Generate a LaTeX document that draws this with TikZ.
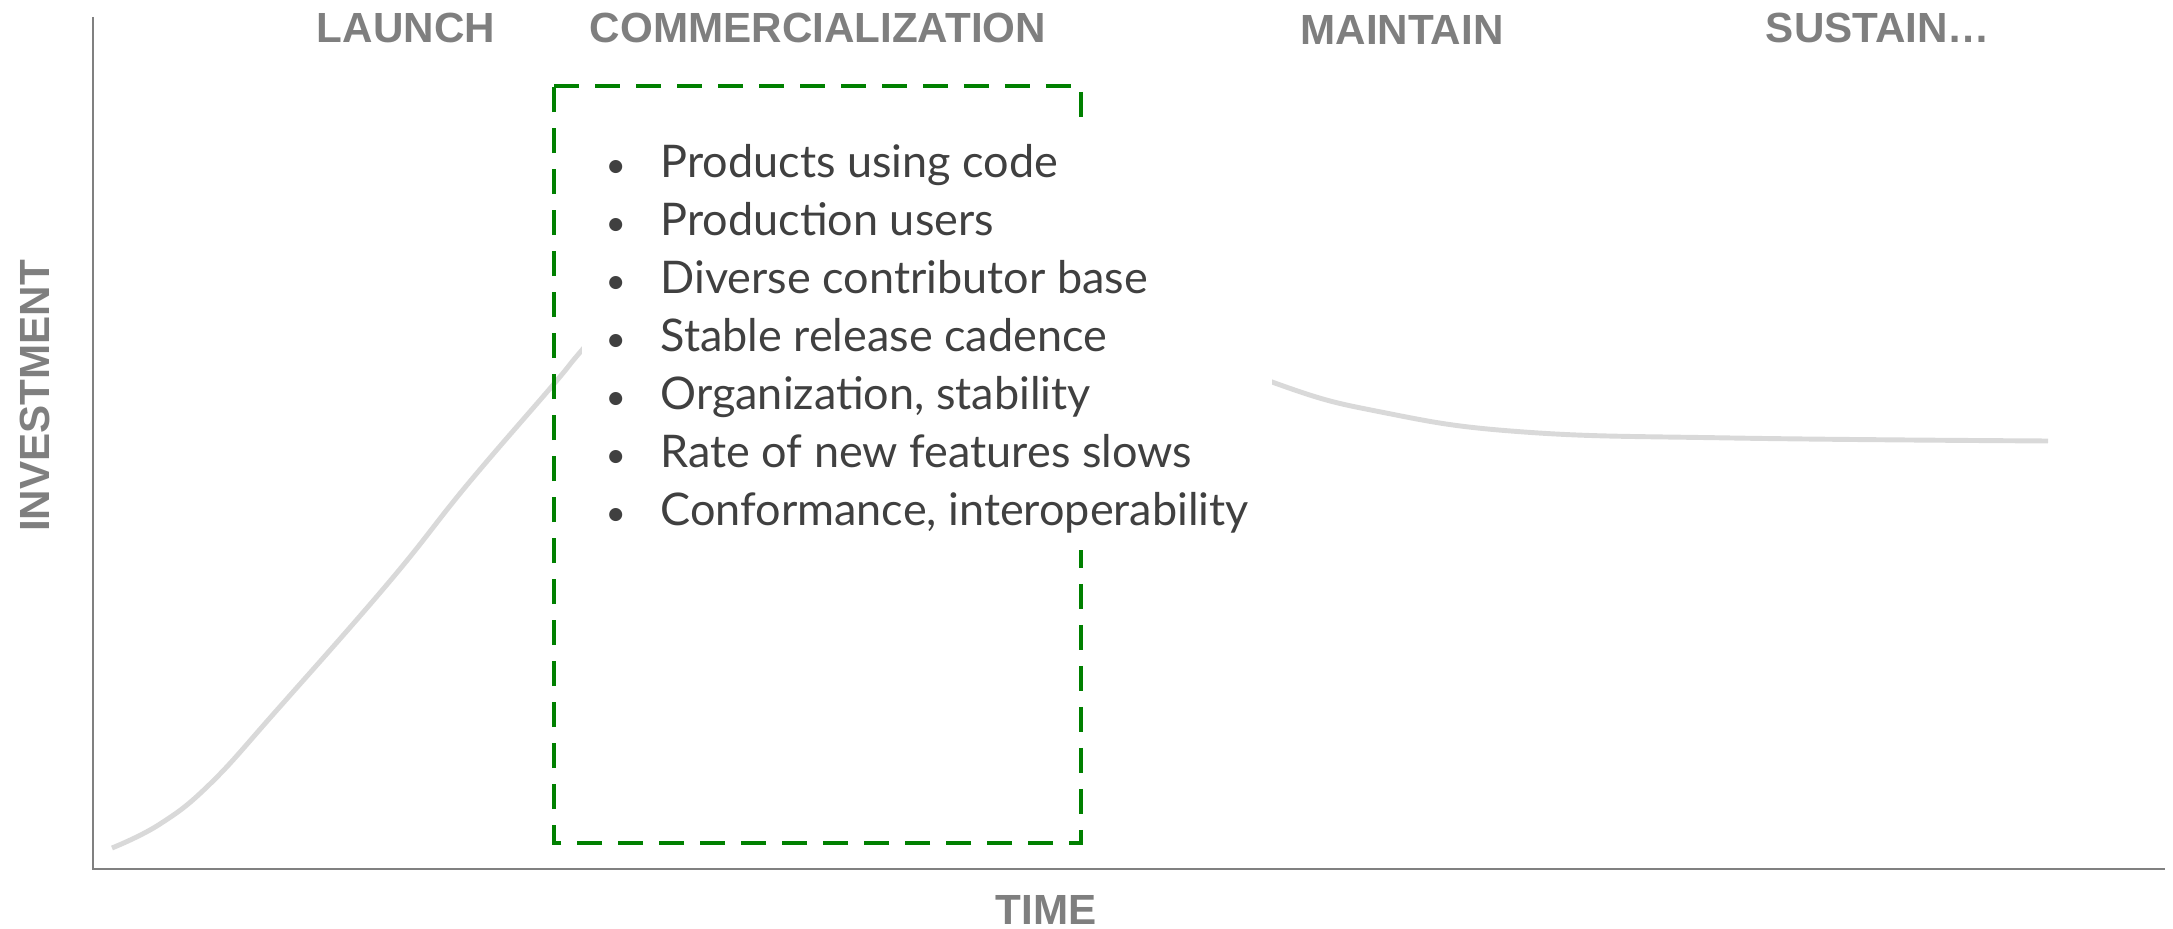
\documentclass[tikz,border=0pt]{standalone}
\usepackage{fontspec}
\setmainfont{Lato}
\setsansfont{Liberation Sans}

\definecolor{axisgray}{HTML}{808080}
\definecolor{labelgray}{HTML}{7F7F7F}
\definecolor{curvegray}{HTML}{D9D9D9}
\definecolor{textgray}{HTML}{404040}
\definecolor{boxgreen}{HTML}{008000}

\newcommand{\featitem}[1]{\makebox[1mm][c]{\fontsize{10}{10}\selectfont•}\hspace{4.0mm}#1}

\tikzset{
  phase/.style={font=\sffamily\bfseries\fontsize{12}{14}\selectfont, text=labelgray, inner sep=0pt},
  axisline/.style={draw=axisgray, line width=0.7pt},
  curveline/.style={draw=curvegray, line width=1.4pt},
  greenbox/.style={draw=boxgreen, line width=1.4pt, dash pattern=on 2.5mm off 1.6mm},
  cover/.style={fill=white},
  featlist/.style={align=left, text=textgray, font=\fontsize{12.8}{16.5}\selectfont, inner sep=0pt}
}

\begin{document}
\begin{tikzpicture}[x=0.1mm, y=-0.1mm]
  \useasboundingbox (0,0) rectangle (2173,929);
  % axes
  \coordinate (ytop) at (93,17);
  \coordinate (origin) at (93,869);
  \coordinate (xend) at (2165,869);
  \draw[axisline] (ytop) -- (origin) -- (xend);

  % investment curve
  \draw[curveline] plot[smooth, tension=0.7] coordinates {(112,848) (160,824) (210,784) (277,710) (390,581) (467,485) (553,385) (582,350) (650,272) (760,205) (900,195) (1100,310) (1272,382) (1386,413) (1524,432) (1732,438) (2048,441)};

  % commercialization window
  \draw[greenbox] (554,86) -- (1081,86) -- (1081,843) -- (554,843) -- cycle;

  % phases
  \node[phase] (launch) at (406,28) {LAUNCH};
  \node[phase] (comm) at (818,28) {COMMERCIALIZATION};
  \node[phase] (maint) at (1402,30) {MAINTAIN};
  \node[phase] (sustain) at (1878,28) {SUSTAIN…};
  \node[phase, rotate=90] (invest) at (35,396) {INVESTMENT};
  \node[phase] (time) at (1046,910) {TIME};

  % what it looks like
  \fill[cover] (582,122) rectangle (1272,550);
  \node[featlist, anchor=north west] (feats) at (610,144) {%
    \featitem{Products using code}\\
    \featitem{Production users}\\
    \featitem{Diverse contributor base}\\
    \featitem{Stable release cadence}\\
    \featitem{Organization, stability}\\
    \featitem{Rate of new features slows}\\
    \featitem{Conformance, interoperability}};
\end{tikzpicture}
\end{document}
